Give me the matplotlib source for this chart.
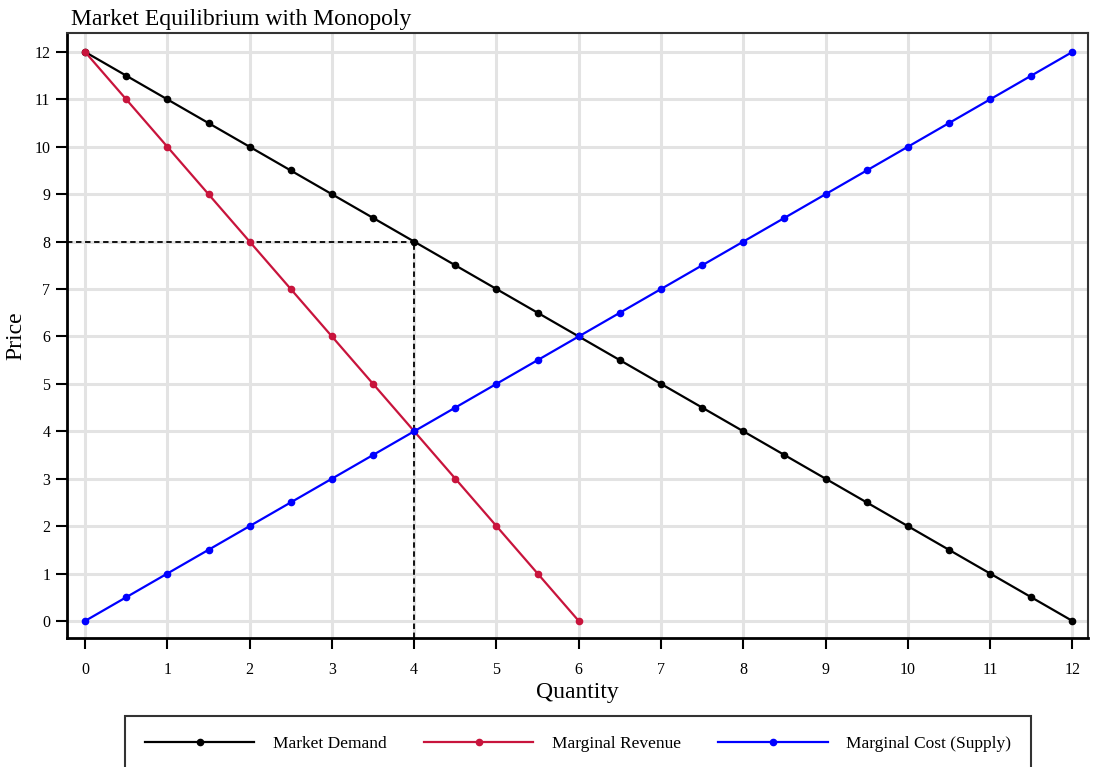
import matplotlib.pyplot as plt

demand_q = [0, 0.5, 1, 1.5, 2, 2.5, 3, 3.5, 4, 4.5, 5, 5.5, 6, 6.5, 7, 7.5, 8, 8.5, 9, 9.5, 10, 10.5, 11, 11.5, 12]
demand_p = [12, 11.5, 11, 10.5, 10, 9.5, 9, 8.5, 8, 7.5, 7, 6.5, 6, 5.5, 5, 4.5, 4, 3.5, 3, 2.5, 2, 1.5, 1, 0.5, 0]
mr_q = [0, 0.5, 1, 1.5, 2, 2.5, 3, 3.5, 4, 4.5, 5, 5.5, 6]
mr_p = [12, 11, 10, 9, 8, 7, 6, 5, 4, 3, 2, 1, 0]
mc_q = [0, 0.5, 1, 1.5, 2, 2.5, 3, 3.5, 4, 4.5, 5, 5.5, 6, 6.5, 7, 7.5, 8, 8.5, 9, 9.5, 10, 10.5, 11, 11.5, 12]
mc_p = [0, 0.5, 1, 1.5, 2, 2.5, 3, 3.5, 4, 4.5, 5, 5.5, 6, 6.5, 7, 7.5, 8, 8.5, 9, 9.5, 10, 10.5, 11, 11.5, 12]
monopoly_q = 4
monopoly_p = 8

plt.rcParams['font.family'] = ['Liberation Serif', 'DejaVu Serif']

fig = plt.figure(figsize=(10.96, 7.67), dpi=100)
ax = fig.add_axes([67 / 1096, 1 - 638 / 767, (1088 - 67) / 1096, (638 - 33) / 767])

ax.plot(demand_q, demand_p, color='black', marker='o', markersize=4.5, lw=1.6, label="Market Demand", zorder=3)
ax.plot(mr_q, mr_p, color='#c8143c', marker='o', markersize=4.5, lw=1.6, label="Marginal Revenue", zorder=3)
ax.plot(mc_q, mc_p, color='#0000ff', marker='o', markersize=4.5, lw=1.6, label="Marginal Cost (Supply)", zorder=3)

ax.set_xlim(-0.22, 12.19)
ax.set_ylim(-0.36, 12.4)

# dashed guides to the monopoly point
ax.plot([-0.22, monopoly_q], [monopoly_p, monopoly_p], color='black', lw=1.3, dashes=(3, 2), zorder=2)
ax.plot([monopoly_q, monopoly_q], [-0.36, monopoly_p], color='black', lw=1.3, dashes=(3, 2), zorder=2)

ax.set_xticks(range(0, 13))
ax.set_yticks(range(0, 13))
ax.grid(True, color='#e3e3e3', lw=2.2, zorder=0)
ax.set_axisbelow(True)
ax.tick_params(direction='out', length=8, width=1.5, labelsize=11.5)
ax.tick_params(axis='x', pad=9)
ax.tick_params(axis='y', pad=4)

for side in ['left', 'bottom']:
    ax.spines[side].set_linewidth(2)
    ax.spines[side].set_color('black')
for side in ['top', 'right']:
    ax.spines[side].set_linewidth(1.5)
    ax.spines[side].set_color('#333333')

ax.set_title("Market Equilibrium with Monopoly", loc='left', fontsize=17, pad=6, x=0.004)
ax.set_xlabel("Quantity", fontsize=17, labelpad=3)
ax.set_ylabel("Price", fontsize=17, labelpad=6)

leg = fig.legend(loc='upper left', bbox_to_anchor=(125 / 1096, 0, 906 / 1096, 1 - 716 / 767),
                 mode='expand', ncol=3, fontsize=12.5, frameon=True, fancybox=False,
                 handlelength=6.3, borderpad=1.15, handletextpad=1.05, borderaxespad=0)
leg.get_frame().set_edgecolor('black')
leg.get_frame().set_linewidth(1.5)

fig.savefig("out.png", dpi=100)
